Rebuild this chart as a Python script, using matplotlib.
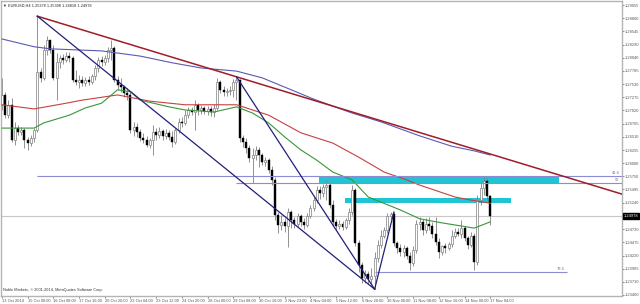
import matplotlib
matplotlib.use("Agg")
import matplotlib.pyplot as plt
import matplotlib.transforms as mtransforms

# EURUSD H4, bars from 13 Oct 2014 16:00 to 17 Nov 2014
first_open = 1.2713
close = [1.2732, 1.2693, 1.2713, 1.2645, 1.2668, 1.2660, 1.2664, 1.2645, 1.2639, 1.2649,
         1.2664, 1.2776, 1.2765, 1.2819, 1.2838, 1.2819, 1.2765, 1.2796, 1.2803, 1.2799,
         1.2807, 1.2803, 1.2761, 1.2757, 1.2761, 1.2755, 1.2761, 1.2757, 1.2769, 1.2784,
         1.2799, 1.2796, 1.2803, 1.2819, 1.2823, 1.2761, 1.2751, 1.2747, 1.2736, 1.2732,
         1.2664, 1.2670, 1.2660, 1.2649, 1.2645, 1.2635, 1.2645, 1.2660, 1.2655, 1.2662,
         1.2653, 1.2659, 1.2651, 1.2641, 1.2664, 1.2680, 1.2678, 1.2693, 1.2703, 1.2699,
         1.2713, 1.2703, 1.2707, 1.2701, 1.2705, 1.2699, 1.2707, 1.2757, 1.2742, 1.2738,
         1.2740, 1.2742, 1.2757, 1.2761, 1.2649, 1.2641, 1.2630, 1.2610, 1.2616, 1.2626,
         1.2616, 1.2603, 1.2606, 1.2587, 1.2568, 1.2500, 1.2481, 1.2487, 1.2479, 1.2506,
         1.2491, 1.2483, 1.2498, 1.2487, 1.2481, 1.2498, 1.2514, 1.2529, 1.2549, 1.2543,
         1.2554, 1.2558, 1.2520, 1.2487, 1.2479, 1.2483, 1.2477, 1.2491, 1.2506, 1.2549,
         1.2446, 1.2404, 1.2379, 1.2386, 1.2377, 1.2383, 1.2417, 1.2442, 1.2460, 1.2471,
         1.2498, 1.2502, 1.2446, 1.2437, 1.2429, 1.2437, 1.2421, 1.2408, 1.2433, 1.2483,
         1.2487, 1.2471, 1.2483, 1.2479, 1.2464, 1.2448, 1.2429, 1.2440, 1.2437, 1.2444,
         1.2460, 1.2467, 1.2464, 1.2475, 1.2456, 1.2442, 1.2460, 1.2410, 1.2529, 1.2552,
         1.2566, 1.25378, 1.24978]
high = [1.2765, 1.2738, 1.2722, 1.2726, 1.2680, 1.2674, 1.2670, 1.2668, 1.2651, 1.2655,
        1.2668, 1.2884, 1.2784, 1.2828, 1.2846, 1.2838, 1.2828, 1.2813, 1.2809, 1.2811,
        1.2815, 1.2815, 1.2807, 1.2780, 1.2770, 1.2769, 1.2767, 1.2769, 1.2772, 1.2790,
        1.2805, 1.2807, 1.2809, 1.2825, 1.2838, 1.2826, 1.2769, 1.2765, 1.2751, 1.2745,
        1.2738, 1.2680, 1.2678, 1.2666, 1.2659, 1.2653, 1.2649, 1.2674, 1.2668, 1.2670,
        1.2666, 1.2666, 1.2664, 1.2662, 1.2668, 1.2688, 1.2689, 1.2703, 1.2709, 1.2709,
        1.2722, 1.2716, 1.2713, 1.2711, 1.2711, 1.2711, 1.2715, 1.2765, 1.2761, 1.2749,
        1.2745, 1.2749, 1.2763, 1.2767, 1.2763, 1.2655, 1.2649, 1.2635, 1.2630, 1.2633,
        1.2632, 1.2620, 1.2612, 1.2610, 1.2595, 1.2574, 1.2506, 1.2500, 1.2494, 1.2514,
        1.2510, 1.2496, 1.2504, 1.2502, 1.2494, 1.2504, 1.2520, 1.2535, 1.2556, 1.2556,
        1.2560, 1.2568, 1.2562, 1.2529, 1.2493, 1.2491, 1.2489, 1.2494, 1.2514, 1.2558,
        1.2552, 1.2452, 1.2410, 1.2394, 1.2392, 1.2398, 1.2429, 1.2452, 1.2471, 1.2477,
        1.2504, 1.2506, 1.2506, 1.2450, 1.2444, 1.2442, 1.2440, 1.2429, 1.2440, 1.2491,
        1.2496, 1.2493, 1.2494, 1.2496, 1.2487, 1.2496, 1.2456, 1.2442, 1.2446, 1.2448,
        1.2471, 1.2475, 1.2475, 1.2491, 1.2479, 1.2460, 1.2467, 1.2466, 1.2539, 1.2564,
        1.2574, 1.2572, 1.25398]
low = [1.2703, 1.2688, 1.2688, 1.2641, 1.2635, 1.2655, 1.2655, 1.2630, 1.2626, 1.2633,
       1.2641, 1.2660, 1.2757, 1.2761, 1.2809, 1.2813, 1.2761, 1.2722, 1.2784, 1.2792,
       1.2796, 1.2796, 1.2757, 1.2751, 1.2745, 1.2749, 1.2749, 1.2751, 1.2753, 1.2761,
       1.2776, 1.2788, 1.2790, 1.2796, 1.2799, 1.2757, 1.2742, 1.2738, 1.2728, 1.2722,
       1.2659, 1.2653, 1.2651, 1.2643, 1.2639, 1.2632, 1.2630, 1.2616, 1.2645, 1.2649,
       1.2645, 1.2647, 1.2645, 1.2632, 1.2637, 1.2659, 1.2670, 1.2674, 1.2688, 1.2693,
       1.2664, 1.2693, 1.2695, 1.2695, 1.2693, 1.2691, 1.2689, 1.2703, 1.2736, 1.2730,
       1.2730, 1.2732, 1.2728, 1.2722, 1.2641, 1.2632, 1.2620, 1.2603, 1.2562, 1.2606,
       1.2593, 1.2597, 1.2595, 1.2581, 1.2558, 1.2491, 1.2466, 1.2471, 1.2467, 1.2439,
       1.2475, 1.2475, 1.2477, 1.2479, 1.2473, 1.2477, 1.2494, 1.2508, 1.2523, 1.2531,
       1.2535, 1.2529, 1.2514, 1.2479, 1.2471, 1.2473, 1.2471, 1.2473, 1.2483, 1.2500,
       1.2440, 1.2390, 1.2369, 1.2369, 1.2367, 1.2365, 1.2357, 1.2410, 1.2437, 1.2456,
       1.2466, 1.2491, 1.2440, 1.2427, 1.2421, 1.2419, 1.2415, 1.2394, 1.2402, 1.2427,
       1.2471, 1.2462, 1.2466, 1.2471, 1.2456, 1.2442, 1.2417, 1.2423, 1.2427, 1.2433,
       1.2439, 1.2456, 1.2460, 1.2456, 1.2450, 1.2435, 1.2439, 1.2394, 1.2404, 1.2520,
       1.2539, 1.2529, 1.24818]
opens = [first_open] + close[:-1]

x_labels = ["13 Oct 2014", "15 Oct 00:00", "16 Oct 08:00", "17 Oct 16:00", "20 Oct 20:00",
            "22 Oct 04:00", "23 Oct 12:00", "24 Oct 20:00", "28 Oct 00:00", "29 Oct 08:00",
            "30 Oct 16:00", "2 Nov 23:00", "4 Nov 04:00", "5 Nov 12:00", "6 Nov 20:00",
            "10 Nov 00:00", "11 Nov 08:00", "12 Nov 16:00", "14 Nov 00:00", "17 Nov 04:00"]
price_ticks = [1.29055, 1.28800, 1.28545, 1.28290, 1.28040, 1.27785, 1.27530, 1.27275,
               1.27020, 1.26765, 1.26510, 1.26255, 1.26000, 1.25750, 1.25495, 1.25240,
               1.24730, 1.24475, 1.24220, 1.23965, 1.23710, 1.23460]

# moving averages (sampled from the chart)
ma_blue_bar = [0, 10, 15, 31, 43, 53, 62, 73, 81, 90, 97, 109, 118, 130, 140, 147, 152]
ma_blue = [1.2840, 1.2825, 1.2821, 1.2817, 1.2807, 1.2794, 1.2784, 1.2778, 1.2765, 1.2742,
           1.2724, 1.2697, 1.2680, 1.2653, 1.2633, 1.2624, 1.2616]
ma_red_bar = [0, 10, 20, 25, 36, 46, 57, 73, 83, 93, 103, 111, 119, 126, 130, 141, 146, 152]
ma_red = [1.2713, 1.2705, 1.2716, 1.2722, 1.2732, 1.2720, 1.2713, 1.2713, 1.2693, 1.2659,
          1.2639, 1.2612, 1.2583, 1.2568, 1.2558, 1.2535, 1.2529, 1.2523]
ma_green_bar = [0, 10, 13, 21, 26, 31, 36, 40, 43, 52, 57, 66, 73, 78, 83, 88, 93, 98,
                103, 109, 114, 124, 130, 137, 147, 152]
ma_green = [1.2668, 1.2668, 1.2678, 1.2693, 1.2707, 1.2716, 1.2742, 1.2738, 1.2722, 1.2709,
            1.2703, 1.2699, 1.2709, 1.2697, 1.2678, 1.2651, 1.2626, 1.2606, 1.2583, 1.2568,
            1.2535, 1.2510, 1.2493, 1.2485, 1.2475, 1.2487]

# drawn objects
red_trend = [(11, 1.2884), (73, 1.2767)]
navy_lines = [[(11, 1.2884), (116, 1.2357)],
              [(73, 1.2767), (116, 1.2357)],
              [(116, 1.2357), (122, 1.2506)]]
fib_levels = [1.2576, 1.2562, 1.2390]
fib_start = [11, 73, 116]
fib_end = [193, 193, 176]
fib_names = ["41.6", "50", "78.6"]
zones = [(98.7, 173.4, 1.2562, 1.2576), (106.8, 158.4, 1.2523, 1.2533)]
bid = 1.24978

plt.rcParams['font.family'] = ['Liberation Sans', 'DejaVu Sans']
fig = plt.figure(figsize=(6.4, 3.04), dpi=100)
ax = fig.add_axes([1 / 640, 8 / 304, 621 / 640, 295 / 304])

n = len(close)
bars = list(range(n))

# zones behind everything
for x0, x1, p0, p1 in zones:
    ax.fill_between([x0, x1], p0, p1, color='#20c4d2', lw=0, zorder=1)

ax.axhline(bid, color='#c8c8c8', lw=0.8, zorder=1.5)

# candles
ax.vlines(bars, low, high, color='#808080', lw=0.6, zorder=2)
for i in bars:
    o, c = opens[i], close[i]
    h = max(abs(c - o), 0.00004)
    if c >= o:
        ax.bar(i, h, bottom=o, width=0.62, color='white', edgecolor='#808080', lw=0.5, zorder=3)
    else:
        ax.bar(i, h, bottom=c, width=0.62, color='black', edgecolor='black', lw=0.3, zorder=3)

# moving averages
ax.plot(ma_blue_bar, ma_blue, color='#5a5ab4', lw=0.8, zorder=4)
ax.plot(ma_red_bar, ma_red, color='#c84040', lw=0.8, zorder=4)
ax.plot(ma_green_bar, ma_green, color='#3a963a', lw=0.8, zorder=4)

# fibonacci levels
for lev, s, e, name in zip(fib_levels, fib_start, fib_end, fib_names):
    ax.hlines(lev, s, e, color='#8c8cd2', lw=0.8, zorder=4)
    ax.text(e - 0.8, lev + 0.00012, name, color='#7070b8', fontsize=2.9,
            ha='right', va='bottom', zorder=5)

# trend lines
(x0, p0), (x1, p1) = red_trend
slope = (p1 - p0) / (x1 - x0)
ax.plot([x0, 200], [p0, p0 + slope * (200 - x0)], color='#a01c28', lw=1.1, zorder=5)
for seg in navy_lines:
    ax.plot([seg[0][0], seg[1][0]], [seg[0][1], seg[1][1]], color='#20207a', lw=0.9, zorder=5)

ax.set_xlim(-0.3, 193)
ax.set_ylim(1.23439, 1.29133)

ax.yaxis.tick_right()
ax.set_yticks(price_ticks)
ax.set_yticklabels(["%.5f" % p for p in price_ticks])
ax.set_xticks(range(0, 8 * len(x_labels), 8))
ax.set_xticklabels(x_labels, ha='left')
ax.tick_params(axis='both', labelsize=2.9, length=1.5, width=0.5, pad=0.8, colors='#555555')
for s in ax.spines.values():
    s.set_color('#b4b4b4')
    s.set_linewidth(1)

tr = mtransforms.blended_transform_factory(ax.transAxes, ax.transData)
ax.text(1.003, bid, "%.5f" % bid, transform=tr, fontsize=2.9, color='white', va='center',
        ha='left', bbox=dict(boxstyle='square,pad=0.2', fc='black', ec='black'), zorder=6)

ax.text(0.004, 0.992, "\u25bc EURUSD,H4 1.25378 1.25398 1.24818 1.24978", transform=ax.transAxes,
        fontsize=2.8, va='top', ha='left', color='#222222')
ax.text(0.004, 0.012, "Noble Markets, \u00a9 2001-2014, MetaQuotes Software Corp.",
        transform=ax.transAxes, fontsize=2.8, va='bottom', ha='left', color='#333333')

fig.savefig("out.png", dpi=100)
